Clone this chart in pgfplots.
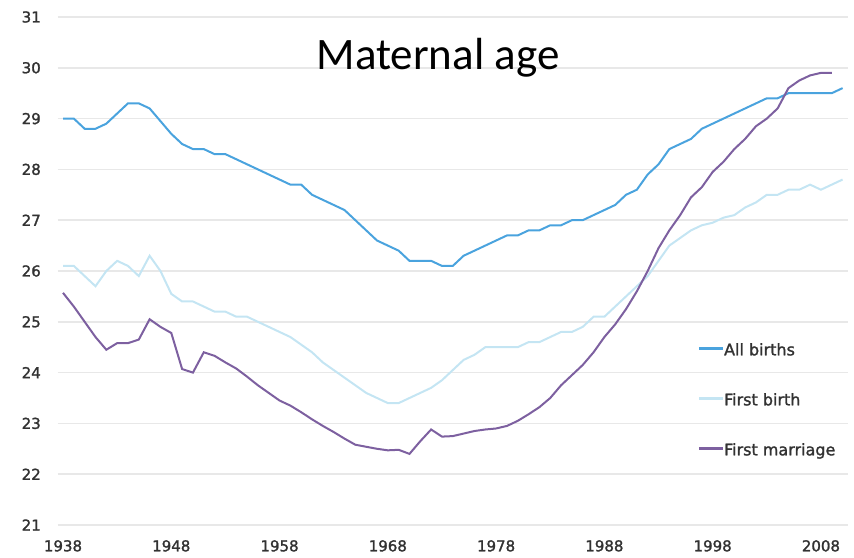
\documentclass[border=0pt]{standalone}
\usepackage{fontspec}
\setmainfont{DejaVu Sans}
\newfontfamily\tickfont[FakeBold=1.5]{DejaVu Sans}
\newfontfamily\carlito{Carlito}
\usepackage{pgfplots}
\pgfplotsset{compat=1.18}
\usepackage{pgfplotstable}
\definecolor{allb}{RGB}{74,163,222}
\definecolor{firstb}{RGB}{196,229,243}
\definecolor{firstm}{RGB}{125,96,160}
\definecolor{gridc}{RGB}{232,232,232}
\definecolor{tickc}{RGB}{50,50,50}

\pgfplotstableread{
year all
1938 29.0
1939 29.0
1940 28.8
1941 28.8
1942 28.9
1943 29.1
1944 29.3
1945 29.3
1946 29.2
1947 28.95
1948 28.7
1949 28.5
1950 28.4
1951 28.4
1952 28.3
1953 28.3
1954 28.2
1955 28.1
1956 28.0
1957 27.9
1958 27.8
1959 27.7
1960 27.7
1961 27.5
1962 27.4
1963 27.3
1964 27.2
1965 27.0
1966 26.8
1967 26.6
1968 26.5
1969 26.4
1970 26.2
1971 26.2
1972 26.2
1973 26.1
1974 26.1
1975 26.3
1976 26.4
1977 26.5
1978 26.6
1979 26.7
1980 26.7
1981 26.8
1982 26.8
1983 26.9
1984 26.9
1985 27.0
1986 27.0
1987 27.1
1988 27.2
1989 27.3
1990 27.5
1991 27.6
1992 27.9
1993 28.1
1994 28.4
1995 28.5
1996 28.6
1997 28.8
1998 28.9
1999 29.0
2000 29.1
2001 29.2
2002 29.3
2003 29.4
2004 29.4
2005 29.5
2006 29.5
2007 29.5
2008 29.5
2009 29.5
2010 29.6
}\allbirths

\pgfplotstableread{
year first
1938 26.1
1939 26.1
1940 25.9
1941 25.7
1942 26.0
1943 26.2
1944 26.1
1945 25.9
1946 26.3
1947 26.0
1948 25.55
1949 25.4
1950 25.4
1951 25.3
1952 25.2
1953 25.2
1954 25.1
1955 25.1
1956 25.0
1957 24.9
1958 24.8
1959 24.7
1960 24.55
1961 24.4
1962 24.2
1963 24.05
1964 23.9
1965 23.75
1966 23.6
1967 23.5
1968 23.4
1969 23.4
1970 23.5
1971 23.6
1972 23.7
1973 23.85
1974 24.05
1975 24.25
1976 24.35
1977 24.5
1978 24.5
1979 24.5
1980 24.5
1981 24.6
1982 24.6
1983 24.7
1984 24.8
1985 24.8
1986 24.9
1987 25.1
1988 25.1
1989 25.3
1990 25.5
1991 25.7
1992 25.9
1993 26.2
1994 26.5
1995 26.65
1996 26.8
1997 26.9
1998 26.95
1999 27.05
2000 27.1
2001 27.25
2002 27.35
2003 27.5
2004 27.5
2005 27.6
2006 27.6
2007 27.7
2008 27.6
2009 27.7
2010 27.8
}\firstbirth

\pgfplotstableread{
year marr
1938 25.57
1939 25.3
1940 25.0
1941 24.7
1942 24.45
1943 24.58
1944 24.58
1945 24.65
1946 25.05
1947 24.9
1948 24.78
1949 24.07
1950 24.0
1951 24.4
1952 24.33
1953 24.2
1954 24.08
1955 23.92
1956 23.75
1957 23.6
1958 23.45
1959 23.35
1960 23.22
1961 23.08
1962 22.95
1963 22.83
1964 22.7
1965 22.58
1966 22.54
1967 22.5
1968 22.47
1969 22.48
1970 22.4
1971 22.65
1972 22.88
1973 22.74
1974 22.75
1975 22.8
1976 22.85
1977 22.88
1978 22.9
1979 22.95
1980 23.05
1981 23.18
1982 23.32
1983 23.5
1984 23.75
1985 23.95
1986 24.15
1987 24.4
1988 24.7
1989 24.95
1990 25.25
1991 25.6
1992 26.0
1993 26.45
1994 26.8
1995 27.1
1996 27.45
1997 27.65
1998 27.95
1999 28.15
2000 28.4
2001 28.6
2002 28.85
2003 29.0
2004 29.2
2005 29.6
2006 29.75
2007 29.85
2008 29.9
2009 29.9
}\firstmarriage

\begin{document}
\begin{tikzpicture}
\path[use as bounding box] (0pt,0pt) rectangle (854pt,557pt);
\begin{axis}[
  at={(57.6pt,32pt)}, anchor=south west,
  scale only axis, width=790.4pt, height=508pt,
  xmin=1937.5, xmax=2010.5, ymin=21, ymax=31,
  xtick={1938,1948,...,2008}, ytick={21,22,...,31},
  ymajorgrids, grid style={gridc, line width=1.6pt},
  axis line style={draw=none}, major tick length=0pt,
  tick label style={font=\tickfont\fontsize{15}{18}\selectfont, text=tickc},
  /pgf/number format/assume math mode=true,
  /pgf/number format/1000 sep={},
  xticklabel style={anchor=north, inner sep=0pt, yshift=-15pt},
  yticklabel style={anchor=east, inner sep=0pt, xshift=-16.6pt},
  every axis title shift=0pt,
  title={\carlito Maternal age},
  title style={at={(0.4813,0.8957)}, anchor=base, inner sep=0pt, font=\fontsize{45}{50}\selectfont},
  legend style={at={(axis cs:1996.6,24.56)}, anchor=north west, draw=none, fill=none,
    inner sep=0pt, row sep=35pt, font=\tickfont\fontsize{16}{18}\selectfont, text=tickc,
    nodes={inner sep=0pt, text height=11pt, text depth=4pt}},
  legend cell align=left,
  legend image code/.code={\draw[#1, line width=2.4pt] (0pt,3.5pt) -- (24pt,3.5pt);},
]
\addplot[allb, line width=2pt] table[x=year, y=all] {\allbirths};
\addlegendentry{All births}
\addplot[firstb, line width=2pt] table[x=year, y=first] {\firstbirth};
\addlegendentry{First birth}
\addplot[firstm, line width=2pt] table[x=year, y=marr] {\firstmarriage};
\addlegendentry{First marriage}
\end{axis}
\end{tikzpicture}
\end{document}
